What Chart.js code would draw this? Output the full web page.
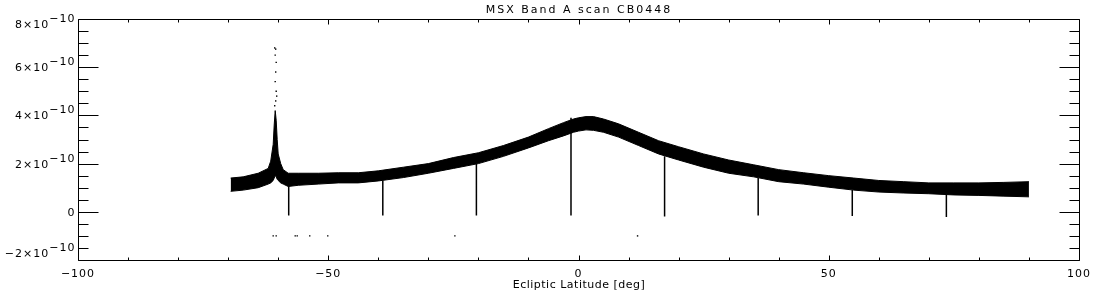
<!DOCTYPE html>
<html>
<head>
<meta charset="utf-8">
<title>MSX Band A scan CB0448</title>
<script src="https://cdn.jsdelivr.net/npm/chart.js@4.4.1/dist/chart.umd.min.js"></script>
<style>
  html, body { margin: 0; padding: 0; background: #fff; }
  #wrap { width: 1100px; height: 300px; position: relative; }
</style>
</head>
<body>
<div id="wrap"><canvas id="scan"></canvas></div>
<script>
// values in units of 1e-10
var latitude = [-69.5, -67, -64, -62, -61.5, -61, -60.8, -60.6, -60.4, -60.2, -60, -59.5, -59, -58, -56, -52, -48, -44, -40, -35,
                -30, -25, -20, -15, -10, -6, -3, -1, 0, 1.5, 3, 5, 8, 12, 16, 20, 25, 30, 35, 40,
                45, 50, 55, 60, 65, 70, 75, 80, 85, 90];
var upperBand = [1.4, 1.45, 1.6, 1.8, 2.1, 2.8, 3.6, 4.2, 3.8, 3.0, 2.4, 2.0, 1.75, 1.6, 1.6, 1.6, 1.62, 1.62, 1.7, 1.85,
                 2.0, 2.25, 2.45, 2.75, 3.1, 3.45, 3.7, 3.85, 3.9, 3.95, 3.95, 3.85, 3.65, 3.3, 2.95, 2.7, 2.4, 2.15, 1.95, 1.75,
                 1.62, 1.5, 1.4, 1.3, 1.25, 1.2, 1.2, 1.2, 1.22, 1.25];
var lowerBand = [0.85, 0.9, 1.0, 1.15, 1.2, 1.3, 1.4, 1.5, 1.45, 1.35, 1.3, 1.2, 1.15, 1.05, 1.1, 1.15, 1.2, 1.2, 1.28, 1.42,
                 1.6, 1.8, 2.0, 2.3, 2.65, 2.95, 3.15, 3.3, 3.35, 3.4, 3.38, 3.3, 3.1, 2.75, 2.4, 2.15, 1.85, 1.6, 1.45, 1.25,
                 1.15, 1.02, 0.9, 0.82, 0.78, 0.75, 0.7, 0.68, 0.65, 0.62];

// sparse samples above the spike
var spikeDotX = [-60.7, -60.5, -60.6, -60.4, -60.5, -60.6, -60.4, -60.5, -60.7, -60.3];
var spikeDotY = [6.8, 6.75, 6.5, 6.2, 5.8, 5.4, 5.0, 4.6, 4.4, 4.8];

// dropouts
var dipX = [-57.9, -39.1, -20.4, -1.5, 17.2, 35.9, 54.7, 73.5];
var dipTop = [1.1, 1.3, 2.0, 3.9, 2.3, 1.4, 0.9, 0.75];
var dipBottom = [-0.15, -0.15, -0.15, -0.15, -0.2, -0.15, -0.17, -0.22];

// stray samples near -1e-10
var strayX = [-61.0, -60.4, -56.6, -56.2, -53.7, -50.1, -24.7, 11.8];
var strayY = [-1.0, -1.0, -1.0, -1.0, -1.0, -1.0, -1.0, -1.0];

var xTicks = [-100, -50, 0, 50, 100];
var yTicks = [-2, 0, 2, 4, 6, 8];

function pts(xs, ys) {
    return xs.map(function(v, i) { return {x: v, y: ys[i]}; });
}

var dipPoints = [];
dipX.forEach(function(v, i) {
    dipPoints.push({x: v, y: dipTop[i]}, {x: v, y: dipBottom[i]}, {x: v, y: null});
});

var FONT = '11px "DejaVu Sans"';

function yLabel(ctx, v, xr, yb) {
    ctx.textAlign = 'right';
    if (v === 0) {
        ctx.fillText('0', xr, yb);
        return;
    }
    var sup = '\u221210';
    var base = (v < 0 ? '\u2212' + (-v) : '' + v) + '\u00d710';
    var w = ctx.measureText(sup).width;
    ctx.fillText(sup, xr, yb - 6);
    ctx.fillText(base, xr - w, yb);
}

var idlFrame = {
    id: 'idlFrame',
    afterDraw: function(chart) {
        var ctx = chart.ctx, a = chart.chartArea;
        var xs = chart.scales.x, ys = chart.scales.y;
        var L = Math.round(a.left) + 0.5, R = Math.round(a.right) + 0.5;
        var T = Math.round(a.top) + 0.5, B = Math.round(a.bottom) + 0.5;
        ctx.save();
        ctx.strokeStyle = '#000';
        ctx.fillStyle = '#000';
        ctx.lineWidth = 1;
        ctx.beginPath();
        ctx.rect(L, T, R - L, B - T);

        xs.ticks.forEach(function(t) {
            var px = Math.round(xs.getPixelForValue(t.value)) + 0.5;
            var len = (t.value % 50 === 0) ? 5 : 3;
            ctx.moveTo(px, B); ctx.lineTo(px, B - len);
            ctx.moveTo(px, T); ctx.lineTo(px, T + len);
        });
        ys.ticks.forEach(function(t) {
            var py = Math.round(ys.getPixelForValue(t.value)) + 0.5;
            var len = (Math.abs(t.value % 2) < 1e-9) ? 20 : 10;
            ctx.moveTo(L, py); ctx.lineTo(L + len, py);
            ctx.moveTo(R, py); ctx.lineTo(R - len, py);
        });
        ctx.stroke();

        ctx.font = FONT;
        ctx.textBaseline = 'alphabetic';
        ctx.letterSpacing = '1px';
        xTicks.forEach(function(v) {
            var px = xs.getPixelForValue(v);
            ctx.textAlign = 'center';
            ctx.fillText(v < 0 ? '\u2212' + (-v) : '' + v, px, B + 16);
        });
        yTicks.forEach(function(v) {
            var py = ys.getPixelForValue(v);
            var yb = Math.min(Math.max(py + 4, T + 8), B - 4);
            yLabel(ctx, v, L - 3, yb);
        });

        ctx.font = '11px "DejaVu Sans"';
        ctx.textAlign = 'center';
        ctx.letterSpacing = '2px';
        ctx.fillText('MSX Band A scan CB0448', (L + R) / 2, 13);
        ctx.letterSpacing = '0.5px';
        ctx.fillText('Ecliptic Latitude [deg]', (L + R) / 2, 288);
        ctx.restore();
    }
};

var ctx = document.getElementById('scan').getContext('2d');
new Chart(ctx, {
    type: 'scatter',
    data: {
        datasets: [
            {
                label: 'lower',
                data: pts(latitude, lowerBand),
                showLine: true,
                borderColor: '#000',
                borderWidth: 1,
                pointRadius: 0,
                fill: false
            },
            {
                label: 'upper',
                data: pts(latitude, upperBand),
                showLine: true,
                borderColor: '#000',
                backgroundColor: '#000',
                borderWidth: 1,
                pointRadius: 0,
                fill: '-1'
            },
            {
                label: 'spike',
                data: pts(spikeDotX, spikeDotY),
                pointStyle: 'rect',
                pointRadius: 1,
                borderWidth: 0,
                backgroundColor: '#000'
            },
            {
                label: 'dips',
                data: dipPoints,
                showLine: true,
                spanGaps: false,
                borderColor: '#000',
                borderWidth: 1.5,
                pointRadius: 0
            },
            {
                label: 'stray',
                data: pts(strayX, strayY),
                pointStyle: 'rect',
                pointRadius: 1,
                borderWidth: 0,
                backgroundColor: '#000'
            }
        ]
    },
    options: {
        responsive: true,
        maintainAspectRatio: false,
        animation: false,
        layout: { padding: { left: 70, right: 21, top: 19, bottom: 32 } },
        plugins: {
            legend: { display: false },
            tooltip: { enabled: false },
            title: { display: false }
        },
        scales: {
            x: {
                type: 'linear',
                min: -100,
                max: 100,
                ticks: { display: false, stepSize: 10 },
                grid: { display: false },
                border: { display: false }
            },
            y: {
                type: 'linear',
                min: -2,
                max: 8,
                ticks: { display: false, stepSize: 0.5 },
                grid: { display: false },
                border: { display: false }
            }
        }
    },
    plugins: [idlFrame]
});
</script>
</body>
</html>
